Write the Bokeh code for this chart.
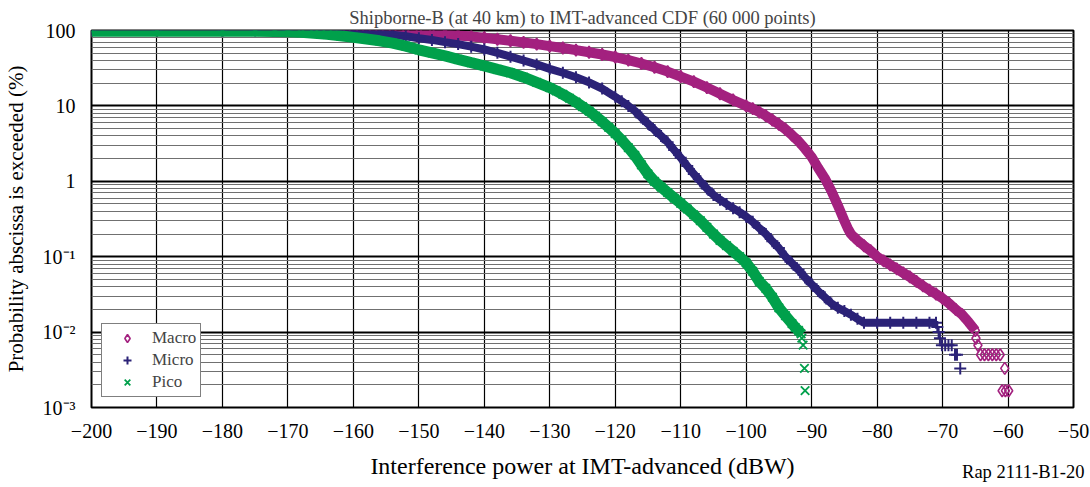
from bokeh.plotting import figure
from bokeh.models import FixedTicker, Legend, LegendItem, Range1d, Title
from bokeh.embed import file_html
from bokeh.resources import INLINE

# ---------------- data ----------------
macro_x = [-200, -190, -180, -170, -165, -162, -160, -158, -156, -154, -152, -150, -148, -146, -144, -142,
           -140, -138, -136, -134, -132, -130, -128, -126, -124, -122, -120, -118, -116, -114, -112, -110,
           -108, -106, -104, -102, -100, -99, -98, -97, -96, -95, -94, -93, -92, -91, -90, -89, -88, -87,
           -86.5, -86, -85.5, -85, -84.5, -84, -83, -82, -81, -80, -79, -78, -77, -76, -75, -74, -73, -72,
           -71, -70, -69, -68, -67, -66, -65]
macro_p = [100, 100, 100, 99.8, 99.5, 99, 98.5, 97.5, 96.5, 95, 93.5, 92, 90, 88, 86, 83.5,
           80, 76.5, 73, 69.5, 66, 62, 58.5, 55, 51.5, 48, 44.5, 40.5, 36.5, 32.5, 28.5, 24.5,
           21, 17.5, 14.5, 12, 10, 9.2, 8.3, 7.4, 6.5, 5.7, 4.9, 4.1, 3.4, 2.7, 2.1, 1.5, 1.1, 0.75,
           0.6, 0.48, 0.38, 0.3, 0.24, 0.2, 0.165, 0.14, 0.12, 0.1, 0.088, 0.078, 0.069, 0.061, 0.054, 0.047, 0.041, 0.036,
           0.032, 0.028, 0.024, 0.02, 0.017, 0.0135, 0.0105]
macro_tail_x = [-64.9, -64.6, -64.2, -63.6, -63.0, -62.4, -61.8, -61.2, -60.5, -60.9, -60.4, -59.9]
macro_tail_p = [0.0083, 0.0067, 0.005, 0.005, 0.005, 0.005, 0.005, 0.005, 0.0033, 0.00167, 0.00167, 0.00167]

micro_x = [-200, -190, -180, -175, -170, -166, -162, -160, -158, -156, -154, -152, -150, -148, -146, -144,
           -142, -140, -138, -136, -134, -132, -130, -128, -126, -124, -122, -120, -119, -118, -117, -116,
           -115, -114, -113, -112, -111, -110, -109, -108, -107, -106, -105, -104, -103, -102, -101, -100,
           -99, -98, -97, -96, -95, -94, -93, -92, -91, -90, -89, -88, -87, -86, -85, -84, -83, -82,
           -80, -78, -76, -74, -72, -71]
micro_p = [100, 100, 100, 99.8, 99.3, 98.5, 97, 96, 94, 91, 88, 84, 79, 75, 70, 66,
           61, 56, 50.5, 45, 40, 35.5, 31, 27.5, 24, 20.5, 17, 13.2, 11.5, 10.0, 8.6, 7.0,
           5.8, 4.8, 4.0, 3.3, 2.6, 2.05, 1.6, 1.25, 1.0, 0.8, 0.66, 0.57, 0.5, 0.44, 0.39, 0.34,
           0.29, 0.24, 0.2, 0.16, 0.13, 0.1, 0.082, 0.067, 0.053, 0.043, 0.035, 0.029, 0.024, 0.021, 0.019, 0.017, 0.015, 0.0133,
           0.0133, 0.0133, 0.0133, 0.0133, 0.0133, 0.0133]
micro_tail_x = [-70.8, -70.6, -70.4, -70.1, -69.6, -69.1, -68.6, -68.1, -67.8, -67.3]
micro_tail_p = [0.0117, 0.01, 0.0083, 0.0067, 0.0067, 0.0067, 0.0067, 0.005, 0.005, 0.0033]

pico_x = [-200, -190, -180, -175, -172, -170, -168, -166, -164, -162, -160, -158, -156, -154, -152, -150,
          -148, -146, -144, -142, -140, -138, -136, -134, -132, -130, -129, -128, -127, -126, -125, -124,
          -123, -122, -121, -120, -119, -118, -117, -116, -115, -114, -113, -112, -111, -110, -109, -108,
          -107, -106, -105, -104, -103, -102, -101, -100, -99, -98, -97, -96, -95, -94, -93, -92.5, -92, -91.6]
pico_p = [98, 98, 98, 97.5, 97, 96, 94.5, 92, 89, 85, 81, 77, 73, 68, 62, 55.5,
          50.5, 46, 41.5, 37.5, 34, 30.5, 27.5, 24, 20.5, 17.5, 15.8, 14.2, 12.7, 11.2, 9.8, 8.5,
          7.3, 6.2, 5.2, 4.3, 3.5, 2.8, 2.2, 1.65, 1.25, 1.0, 0.84, 0.71, 0.6, 0.51, 0.43, 0.36,
          0.3, 0.245, 0.2, 0.165, 0.14, 0.118, 0.1, 0.083, 0.064, 0.047, 0.038, 0.029, 0.021, 0.0165, 0.013, 0.0115, 0.0105, 0.0095]
pico_tail_x = [-91.5, -91.3, -91.1, -91.0]
pico_tail_p = [0.0083, 0.0067, 0.0033, 0.00167]

x_ticks = [-200, -190, -180, -170, -160, -150, -140, -130, -120, -110, -100, -90, -80, -70, -60, -50]
x_tick_labels = ["\u2212" + str(abs(t)) for t in x_ticks]
y_ticks = [0.001, 0.01, 0.1, 1, 10, 100]
y_tick_labels = ["10\u207b\u00b3", "10\u207b\u00b2", "10\u207b\u00b9", "1", "10", "100"]

title_text = "Shipborne-B (at 40 km) to IMT-advanced CDF (60 000 points)"
x_label = "Interference power at IMT-advanced (dBW)"
y_label = "Probability abscissa is exceeded (%)"
ref_text = "Rap 2111-B1-20"

# ---------------- styling ----------------
FONT = "Liberation Serif"
C_MACRO = "#A3217F"
C_MICRO = "#2B2277"
C_PICO = "#00A04B"

W, H = 1090, 487
FL, FR, FT, FB = 90, 1073, 30, 407   # frame edges in canvas pixels

p = figure(width=W, height=H, x_range=Range1d(-200, -50), y_range=Range1d(0.001, 100),
           y_axis_type="log", output_backend="svg", toolbar_location=None,
           min_border_left=FL, min_border_right=W - FR, min_border_top=FT, min_border_bottom=H - FB)

p.title.text = title_text
p.title.align = "center"
p.title.vertical_align = "top"
p.title.text_font = FONT
p.title.text_font_style = "normal"
p.title.text_font_size = "18.5px"
p.title.standoff = 2

p.outline_line_color = "black"
p.outline_line_width = 2

# ticks / grid
p.xaxis.ticker = FixedTicker(ticks=x_ticks)
p.xaxis.major_label_overrides = dict(zip(x_ticks, x_tick_labels))
minor_y = [m * d for d in [0.001, 0.01, 0.1, 1, 10] for m in range(2, 10)]
p.yaxis.ticker = FixedTicker(ticks=y_ticks, minor_ticks=minor_y)
p.yaxis.major_label_overrides = dict(zip(y_ticks, y_tick_labels))

p.xgrid.ticker = FixedTicker(ticks=x_ticks)
p.xgrid.grid_line_color = "black"
p.xgrid.grid_line_width = 1.2
p.ygrid.grid_line_color = "black"
p.ygrid.grid_line_width = 2
p.ygrid.minor_grid_line_color = "#707070"
p.ygrid.minor_grid_line_width = 1

for ax in (p.xaxis, p.yaxis):
    ax.axis_line_color = None
    ax.major_tick_line_color = None
    ax.minor_tick_line_color = None
    ax.major_label_text_font = FONT
    ax.major_label_text_font_size = "20px"
    ax.major_label_text_color = "black"
    ax.axis_label_text_font = FONT
    ax.axis_label_text_font_style = "normal"
    ax.axis_label_text_color = "black"

p.xaxis.axis_label = x_label
p.xaxis.axis_label_text_font_size = "24px"
p.xaxis.major_label_standoff = 10
p.xaxis.axis_label_standoff = 12

p.yaxis.axis_label = y_label
p.yaxis.axis_label_text_font_size = "21px"
p.yaxis.major_label_standoff = 10
p.yaxis.axis_label_standoff = 12

# ---------------- series ----------------
p.line(macro_x, macro_p, line_color=C_MACRO, line_width=10)
r_macro = p.scatter(macro_x + macro_tail_x, macro_p + macro_tail_p, marker="diamond", size=12,
                    line_color=C_MACRO, fill_color=None, line_width=1.6)
p.line(micro_x, micro_p, line_color=C_MICRO, line_width=8)
r_micro = p.scatter(micro_x + micro_tail_x, micro_p + micro_tail_p, marker="cross", size=12,
                    line_color=C_MICRO, line_width=2)
p.line(pico_x, pico_p, line_color=C_PICO, line_width=11)
r_pico = p.scatter(pico_x + pico_tail_x, pico_p + pico_tail_p, marker="x", size=12,
                   line_color=C_PICO, line_width=1.8)

legend = Legend(items=[LegendItem(label="Macro", renderers=[r_macro]),
                       LegendItem(label="Micro", renderers=[r_micro]),
                       LegendItem(label="Pico", renderers=[r_pico])],
                location=(10, 10))
legend.label_text_font = FONT
legend.label_text_font_size = "17px"
legend.border_line_color = "black"
legend.border_line_width = 1.5
legend.background_fill_alpha = 1
legend.glyph_width = 42
legend.glyph_height = 20
legend.label_height = 20
legend.spacing = 2
legend.padding = 4
legend.margin = 0
legend.label_standoff = 4
p.add_layout(legend)

# reference tag at the bottom right, on the row of the x-axis label
rap = Title(text=ref_text, align="right", vertical_align="top", offset=-11, standoff=-40,
            text_font=FONT, text_font_size="18.5px", text_font_style="normal", text_color="black")
p.add_layout(rap, "below")

open("out.html", "w").write(file_html(p, INLINE))
